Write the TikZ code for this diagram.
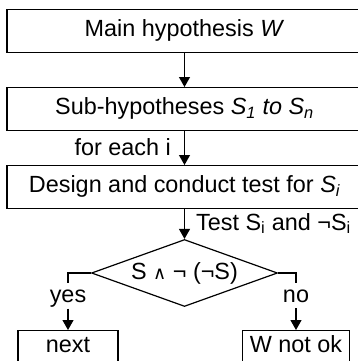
\documentclass[tikz,border=0pt]{standalone}
\usepackage{fontspec}
\setmainfont{Liberation Sans}
\newfontfamily\dvs{DejaVu Sans}
\usetikzlibrary{shapes.geometric,arrows.meta,calc}
\begin{document}
\begin{tikzpicture}[x=1pt,y=-1pt,
  every node/.style={font=\fontsize{23.4}{27}\selectfont, inner sep=0pt},
  box/.style={draw, line width=1.2pt, anchor=north, text height=16.5pt, text depth=4.8pt},
  bigbox/.style={box, minimum width=355pt, minimum height=43pt},
  smallbox/.style={box, minimum height=33pt},
  conn/.style={line width=1.2pt},
  arr/.style={conn, -{Triangle[length=10pt,width=11pt]}},
  decision/.style={draw, diamond, line width=1.2pt, aspect=2.78, minimum width=186pt, minimum height=67pt}
]
\useasboundingbox (0,0) rectangle (358,361);
\fill[white] (0,0) rectangle (358,361);
\clip (0,0) rectangle (358,361);
\node[bigbox] (main) at (184.5,9) {Main hypothesis \textit{W}};
\node[bigbox] (sub) at (184.5,87) {Sub-hypotheses \textit{S\textsubscript{1} to S\textsubscript{n}}};
\node[bigbox] (design) at (184.5,165) {Design and conduct test for \textit{S\textsubscript{i}}};
\node[decision] (dec) at (184.5,273) {S {\dvs\fontsize{18}{20}\selectfont ∧} ¬ (¬S)};
\node[smallbox, minimum width=100pt] (next) at (68,330) {next};
\node[smallbox, minimum width=107pt] (notok) at (296,330) {W not ok};
\node[anchor=base east] (foreach) at (171,155) {for each i};
\node[anchor=base west] (testlbl) at (196,230) {Test S\textsubscript{i} and ¬S\textsubscript{i}};
\node[anchor=base] (yes) at (68,302) {yes};
\node[anchor=base] (no) at (296,302) {no};
\draw[arr] (main.south) -- (sub.north);
\draw[arr] (sub.south) -- (design.north);
\draw[arr] (design.south) -- (dec.north);
\draw[conn] (dec.west) -| ($(yes.north)+(0,-6)$);
\draw[arr] ($(yes.south)+(0,1.5)$) -- (next.north);
\draw[conn] (dec.east) -| ($(no.north)+(0,-6)$);
\draw[arr] ($(no.south)+(0,6)$) -- (notok.north);
\end{tikzpicture}
\end{document}
